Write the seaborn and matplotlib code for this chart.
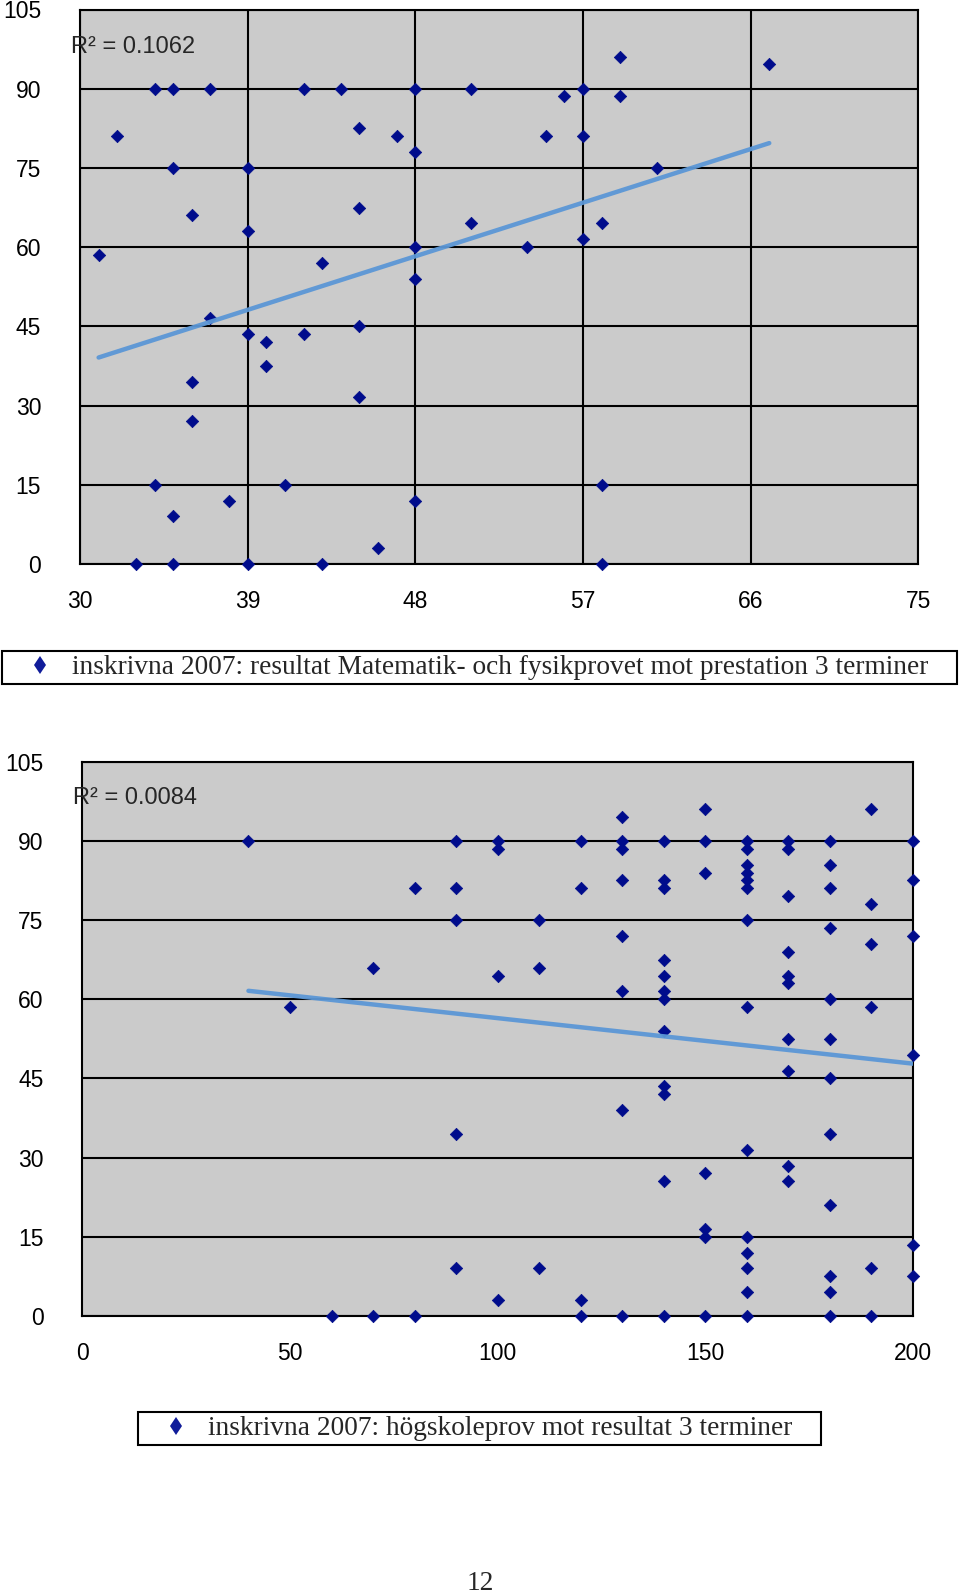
import numpy as np
import pandas as pd
import matplotlib
matplotlib.use("Agg")
import matplotlib.pyplot as plt
import seaborn as sns
from matplotlib.lines import Line2D

# ---------------- data: chart 1 (Matematik- och fysikprovet) ----------------
math_score = [31, 32, 33, 34, 34, 35, 35, 35, 35, 36, 36, 36, 37, 37, 38,
              39, 39, 39, 39, 40, 40, 41, 42, 42, 43, 43, 44, 45, 45, 45, 45,
              46, 47, 48, 48, 48, 48, 48, 51, 51, 54, 55, 56, 57, 57, 57,
              58, 58, 58, 59, 59, 61, 67]
math_result = [58.5, 81, 0, 90, 15, 90, 75, 9, 0, 66, 34.5, 27, 90, 46.6, 12,
               75, 63, 43.6, 0, 42, 37.5, 15, 90, 43.6, 57, 0, 90, 82.6, 67.5, 45, 31.6,
               3, 81, 90, 78, 60, 54, 12, 90, 64.6, 60, 81, 88.6, 90, 81, 61.5,
               64.6, 15, 0, 96, 88.6, 75, 94.6]
math_trend_x = [31, 67]
math_trend_y = [39.1, 79.7]
math_r2 = "R² = 0.1062"
math_xticks = [30, 39, 48, 57, 66, 75]
math_label = "inskrivna 2007: resultat Matematik- och fysikprovet mot prestation 3 terminer"

# ---------------- data: chart 2 (högskoleprov) ----------------
hp_score = [40, 50, 60, 70, 70, 80, 80,
            90, 90, 90, 90, 90,
            100, 100, 100, 100,
            110, 110, 110,
            120, 120, 120, 120,
            130, 130, 130, 130, 130, 130, 130, 130,
            140, 140, 140, 140, 140, 140, 140, 140, 140, 140, 140, 140,
            150, 150, 150, 150, 150, 150, 150,
            160, 160, 160, 160, 160, 160, 160, 160, 160, 160, 160, 160, 160, 160,
            170, 170, 170, 170, 170, 170, 170, 170, 170, 170,
            180, 180, 180, 180, 180, 180, 180, 180, 180, 180, 180, 180,
            190, 190, 190, 190, 190, 190,
            200, 200, 200, 200, 200, 200]
hp_result = [90, 58.5, 0, 66, 0, 81, 0,
             90, 81, 75, 34.5, 9,
             90, 88.5, 64.5, 3,
             75, 66, 9,
             90, 81, 3, 0,
             94.5, 90, 88.5, 82.5, 72, 61.5, 39, 0,
             90, 82.5, 81, 67.5, 64.5, 61.5, 60, 54, 43.5, 42, 25.5, 0,
             96, 90, 84, 27, 16.5, 15, 0,
             90, 88.5, 85.5, 84, 82.5, 81, 75, 58.5, 31.5, 15, 12, 9, 4.5, 0,
             90, 88.5, 79.5, 69, 64.5, 63, 52.5, 46.5, 28.5, 25.5,
             90, 85.5, 81, 73.5, 60, 52.5, 45, 34.5, 21, 7.5, 4.5, 0,
             96, 78, 70.5, 58.5, 9, 0,
             90, 82.5, 72, 49.5, 13.5, 7.5]
hp_trend_x = [40, 200]
hp_trend_y = [61.6, 47.8]
hp_r2 = "R² = 0.0084"
hp_xticks = [0, 50, 100, 150, 200]
hp_label = "inskrivna 2007: högskoleprov mot resultat 3 terminer"

y_ticks = [0, 15, 30, 45, 60, 75, 90, 105]
page_number = "12"

# ---------------- style ----------------
sns.set_style("white")
plt.rcParams['font.family'] = ['Liberation Sans', 'DejaVu Sans']

BG = '#CBCBCB'
NAVY = '#000C8C'
LEG_NAVY = '#101C9A'
TREND = '#5B97D6'
W, H = 960, 1596

fig = plt.figure(figsize=(W / 100, H / 100), dpi=100)
ax1 = fig.add_axes([80 / W, 1 - 564 / H, 838.3 / W, 554.5 / H])
ax2 = fig.add_axes([82.3 / W, 1 - 1316 / H, 830.7 / W, 554.3 / H])


def style(ax, xlim, xticks, vgrid):
    ax.set_facecolor(BG)
    ax.set_xlim(*xlim)
    ax.set_ylim(0, 105)
    ax.set_xticks(xticks)
    ax.set_yticks(y_ticks)
    ax.set_axisbelow(True)
    ax.yaxis.grid(True, color='black', lw=1.5)
    if vgrid:
        ax.xaxis.grid(True, color='black', lw=1.5)
    else:
        ax.xaxis.grid(False)
    for s in ax.spines.values():
        s.set_visible(True)
        s.set_color('black')
        s.set_linewidth(1.5)
    ax.tick_params(axis='both', direction='out', length=4, width=1.5,
                   color='black', labelsize=16.5, labelcolor='black')
    ax.tick_params(axis='y', pad=24)
    ax.tick_params(axis='x', pad=15)
    ax.set_xlabel('')
    ax.set_ylabel('')


def legend(ax, label, box):
    x0, y0, x1, y1 = box
    h = Line2D([], [], marker='d', linestyle='None', color=LEG_NAVY,
               markersize=9.5, markeredgewidth=0)
    leg = ax.legend(handles=[h], labels=[label], loc='center',
                    bbox_to_anchor=(x0 / W, 1 - y1 / H, (x1 - x0) / W, (y1 - y0) / H),
                    bbox_transform=fig.transFigure, mode='expand',
                    borderaxespad=0, borderpad=0.14, handlelength=2.5,
                    handletextpad=-0.08, fancybox=False, framealpha=1,
                    edgecolor='black',
                    prop={'family': ['Liberation Serif', 'DejaVu Serif'], 'size': 19.7})
    leg.get_frame().set_linewidth(1.5)
    leg.get_frame().set_facecolor('white')


# chart 1
sns.scatterplot(x=math_score, y=math_result, ax=ax1, marker='D', s=40,
                color=NAVY, edgecolor=NAVY, linewidth=0.5, clip_on=False, zorder=3)
sns.lineplot(x=math_trend_x, y=math_trend_y, ax=ax1, color=TREND, lw=3.2,
             zorder=4, alpha=0.95)
style(ax1, (30, 75), math_xticks, True)
legend(ax1, math_label, (2, 651, 957, 684))
fig.text(71 / W, 1 - 46.7 / H, math_r2, fontsize=17, ha='left', va='center')

# chart 2
sns.scatterplot(x=hp_score, y=hp_result, ax=ax2, marker='D', s=40,
                color=NAVY, edgecolor=NAVY, linewidth=0.5, clip_on=False, zorder=3)
sns.lineplot(x=hp_trend_x, y=hp_trend_y, ax=ax2, color=TREND, lw=3.2,
             zorder=4, alpha=0.95)
style(ax2, (0, 200), hp_xticks, False)
legend(ax2, hp_label, (138, 1412, 821, 1445))
fig.text(73 / W, 1 - 798 / H, hp_r2, fontsize=17, ha='left', va='center')

fig.text(0.5, 1 - 1583 / H, page_number, fontsize=19.7, ha='center', va='center',
         family=['Liberation Serif', 'DejaVu Serif'])

fig.savefig('out.png', dpi=100, facecolor='white')
